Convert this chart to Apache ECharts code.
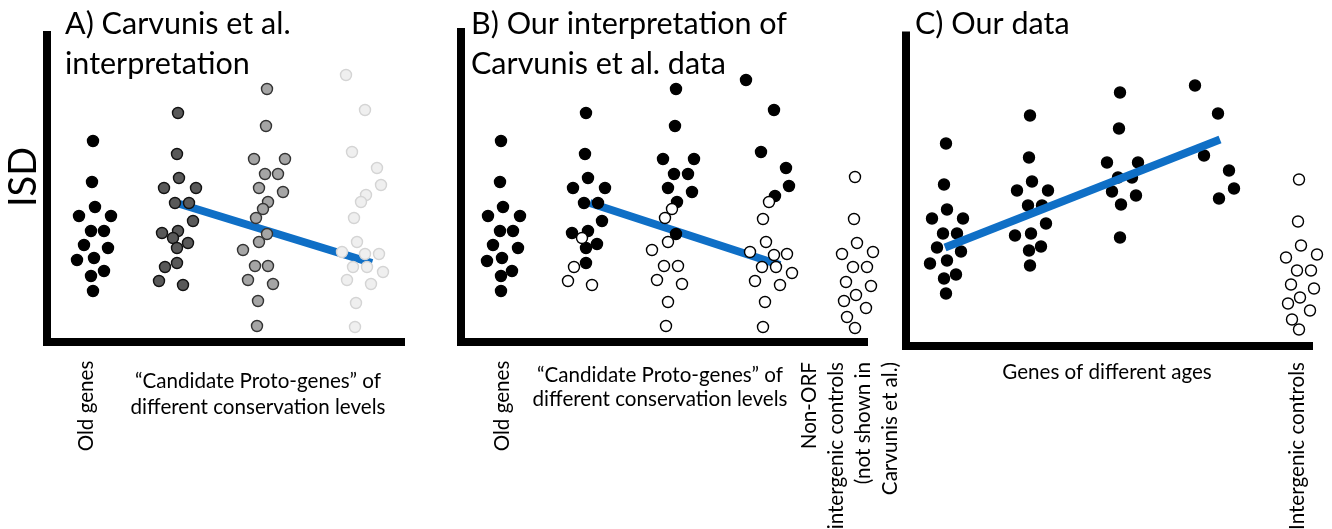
<!DOCTYPE html>
<html>
<head>
<meta charset="utf-8">
<script src="https://cdn.jsdelivr.net/npm/echarts@6/dist/echarts.min.js"></script>
<style>
html,body{margin:0;padding:0;background:#fff;}
#chart{width:1332px;height:529px;}
</style>
</head>
<body>
<div id="chart"></div>
<script>
// ---------- DATA (x = position along panel, y = ISD, arbitrary units) ----------
// Panel A: Carvunis et al. interpretation
const A_old   = [[4.6,20.1],[4.5,16.0],[4.8,13.5],[3.2,12.6],[6.4,12.6],[4.4,11.1],[5.7,11.1],[3.7,9.7],[6.1,9.4],[3.0,8.2],[4.7,8.4],[4.4,6.6],[5.7,7.1],[4.6,5.1]];
const A_cons1 = [[13.1,22.9],[13.0,18.8],[13.2,16.4],[11.7,15.4],[14.9,15.4],[12.8,13.9],[14.2,13.9],[14.6,12.1],[11.5,10.9],[13.1,11.1],[12.6,10.4],[14.1,9.9],[13.0,9.4],[11.8,7.5],[13.0,7.9],[11.2,6.1],[13.6,5.7]];
const A_cons2 = [[22.0,25.3],[21.9,21.6],[20.7,18.3],[23.8,18.3],[21.8,16.8],[23.1,16.8],[21.2,15.4],[23.6,15.0],[22.1,14.0],[21.6,13.3],[20.9,12.4],[22.0,10.8],[21.2,10.0],[19.6,9.2],[20.8,7.6],[22.1,7.6],[20.1,6.2],[22.6,5.8],[21.1,4.1],[21.0,1.6]];
const A_cons3 = [[29.9,26.7],[31.8,23.2],[30.5,19.0],[33.0,17.4],[33.4,15.7],[31.9,14.7],[31.4,14.0],[30.7,12.4],[31.0,10.0],[29.5,9.0],[31.8,8.8],[33.2,8.8],[30.6,7.5],[32.0,7.5],[33.6,7.0],[30.0,6.2],[32.4,5.8],[30.9,3.9],[30.8,1.5]];
const A_trend = [[13.3,13.8],[32.5,7.9]];

// Panel B: Our interpretation of Carvunis et al. data
const B_old = [[4.0,20.1],[3.9,16.0],[4.2,13.5],[2.7,12.6],[5.9,12.6],[3.9,11.1],[5.2,11.1],[3.2,9.7],[5.7,9.4],[2.6,8.1],[4.1,8.4],[4.0,6.6],[5.1,7.1],[4.0,5.1]];
const B_genes = [
  [12.5,22.9],[12.4,18.8],[12.7,16.4],[11.2,15.4],[14.4,15.4],[12.3,13.9],[13.7,13.9],[14.1,12.1],[11.1,10.9],[12.7,11.1],[12.5,9.4],[13.6,9.8],[12.5,7.9],
  [21.5,25.3],[21.4,21.6],[20.2,18.3],[23.3,18.3],[21.3,16.8],[22.7,16.8],[20.7,15.4],[23.1,15.0],[21.6,14.0],[21.5,10.8],
  [28.5,26.2],[31.3,23.2],[30.0,19.0],[32.5,17.4],[32.8,15.6],[31.4,14.6]
];
const B_nongenes = [
  [12.1,10.4],[11.3,7.5],[10.7,6.1],[13.1,5.7],
  [21.1,13.3],[20.4,12.4],[20.7,10.0],[19.1,9.2],[20.3,7.6],[21.7,7.6],[19.6,6.2],[22.1,5.8],[20.7,4.0],[20.5,1.6],
  [30.8,14.0],[30.2,12.3],[30.5,10.0],[28.9,9.0],[31.3,8.7],[32.6,8.8],[30.1,7.5],[31.5,7.5],[33.1,6.9],[29.4,6.1],[31.9,5.7],[30.4,4.0],[30.2,1.5]
];
const B_controls = [[39.4,16.5],[39.3,12.3],[39.6,9.9],[38.1,8.8],[41.2,9.0],[39.2,7.5],[40.6,7.5],[38.5,6.0],[41.0,5.6],[39.5,4.7],[38.3,4.1],[40.5,3.4],[38.6,2.5],[39.4,1.4]];
const B_trend = [[12.9,13.9],[31.9,7.7]];

// Panel C: Our data
const C_genes = [
  [4.0,20.2],[3.8,16.1],[4.1,13.6],[2.6,12.7],[5.7,12.7],[3.7,11.2],[5.1,11.2],[3.1,9.8],[5.5,9.4],[2.4,8.2],[4.1,8.5],[3.8,6.7],[5.0,7.1],[4.0,5.2],
  [12.4,23.0],[12.3,18.8],[12.6,16.4],[11.1,15.5],[14.2,15.5],[12.2,14.0],[13.6,14.0],[14.0,12.2],[10.9,11.0],[12.5,11.2],[12.3,9.5],[13.5,9.9],[12.4,8.0],
  [21.4,25.3],[21.3,21.7],[20.1,18.3],[23.2,18.3],[21.2,16.8],[22.6,16.8],[20.6,15.4],[23.0,15.0],[21.5,14.1],[21.4,10.8],
  [28.9,26.0],[31.2,23.2],[29.8,19.0],[32.3,17.5],[32.8,15.7],[31.3,14.7]
];
const C_controls = [[39.3,16.6],[39.2,12.4],[39.5,10.0],[38.0,8.8],[41.1,9.1],[39.1,7.5],[40.5,7.5],[38.5,6.1],[40.8,5.7],[39.4,4.8],[38.2,4.2],[40.4,3.5],[38.6,2.6],[39.3,1.6]];
const C_trend = [[3.9,9.8],[31.4,20.6]];

// Axis extents (arbitrary units)
const xMax = [35.4, 40.3, 40.3];
const yMax = [30.7, 31.0, 31.0];

// Texts
const titles = [["A) Carvunis et al.", "interpretation"], ["B) Our interpretation of", "Carvunis et al. data"], ["C) Our data"]];
const yAxisName = "ISD";
const labelOld = "Old genes";
const labelCand = ["\u201CCandidate Proto-genes\u201D of", "different conservation levels"];
const labelNonOrf = ["Non-ORF", "intergenic controls", "(not shown in", "Carvunis et al.)"];
const labelAges = "Genes of different ages";
const labelCtrl = "Intergenic controls";

// ---------- CHART ----------
const FONT = 'Lato';
const BLUE = '#0f6fc6';
const chart = echarts.init(document.getElementById('chart'), null, {renderer: 'canvas'});

const grids = [
  {left: 47, top: 35, width: 354, height: 307},
  {left: 461, top: 32, width: 403, height: 310},
  {left: 906, top: 35.5, width: 403, height: 310}
];
const axisLine = {show: true, lineStyle: {color: '#000', width: 8, cap: 'square'}};
const xAxes = grids.map((g, i) => ({type: 'value', gridIndex: i, min: 0, max: xMax[i], axisLine, axisTick: {show: false}, axisLabel: {show: false}, splitLine: {show: false}}));
const yAxes = grids.map((g, i) => ({type: 'value', gridIndex: i, min: 0, max: yMax[i], axisLine, axisTick: {show: false}, axisLabel: {show: false}, splitLine: {show: false}}));

function dots(data, idx, fill, border, z) {
  return {type: 'scatter', xAxisIndex: idx, yAxisIndex: idx, data, symbol: 'circle', symbolSize: 11, clip: false,
    itemStyle: {color: fill, borderColor: border, borderWidth: 1.4, opacity: 1}, z: z || 3, silent: true};
}
function trend(data, idx, z) {
  return {type: 'line', xAxisIndex: idx, yAxisIndex: idx, data, symbol: 'none', clip: false,
    lineStyle: {color: BLUE, width: 8, cap: 'butt'}, z: z, silent: true};
}

function txt(text, x, y, size, opts) {
  opts = opts || {};
  return {type: 'text', x, y, rotation: opts.rot || 0, silent: true,
    style: {text, fontFamily: FONT, fontSize: size, fill: '#000', align: opts.align || 'left', verticalAlign: opts.va || 'middle'}};
}
const R = Math.PI / 2;
const LS = 20.6;
const graphics = [
  txt(titles[0][0], 65, 24, 30.5),
  txt(titles[0][1], 65, 64, 30.5),
  txt(titles[1][0], 471, 24, 30.5),
  txt(titles[1][1], 471, 64, 30.5),
  txt(titles[2][0], 915, 24, 30.5),
  txt(yAxisName, 24, 177, 38, {rot: R, align: 'center'}),
  txt(labelOld, 86, 406, LS, {rot: R, align: 'center'}),
  txt(labelCand[0], 258, 381, LS, {align: 'center'}),
  txt(labelCand[1], 258, 407, LS, {align: 'center'}),
  txt(labelOld, 502, 406, LS, {rot: R, align: 'center'}),
  txt(labelCand[0], 660, 375, LS, {align: 'center'}),
  txt(labelCand[1], 660, 399, LS, {align: 'center'}),
  txt(labelNonOrf[0], 809, 362, LS, {rot: R, align: 'right'}),
  txt(labelNonOrf[1], 836, 362, LS, {rot: R, align: 'right'}),
  txt(labelNonOrf[2], 863, 362, LS, {rot: R, align: 'right'}),
  txt(labelNonOrf[3], 890, 362, LS, {rot: R, align: 'right'}),
  txt(labelAges, 1107, 372, LS, {align: 'center'}),
  txt(labelCtrl, 1297, 362, LS, {rot: R, align: 'right'})
];

chart.setOption({
  animation: false,
  backgroundColor: '#fff',
  grid: grids,
  xAxis: xAxes,
  yAxis: yAxes,
  series: [
    trend(A_trend, 0, 2),
    dots(A_old, 0, '#000', '#000'),
    dots(A_cons1, 0, '#595959', '#111'),
    dots(A_cons2, 0, '#a5a5a5', '#333'),
    dots(A_cons3, 0, '#efefef', '#d4d4d4'),
    trend(B_trend, 1, 2),
    dots(B_old, 1, '#000', '#000'),
    dots(B_genes, 1, '#000', '#000'),
    dots(B_nongenes, 1, '#fff', '#000', 4),
    dots(B_controls, 1, '#fff', '#000'),
    dots(C_genes, 2, '#000', '#000'),
    dots(C_controls, 2, '#fff', '#000'),
    trend(C_trend, 2, 5)
  ],
  graphic: graphics
});
</script>
</body>
</html>
